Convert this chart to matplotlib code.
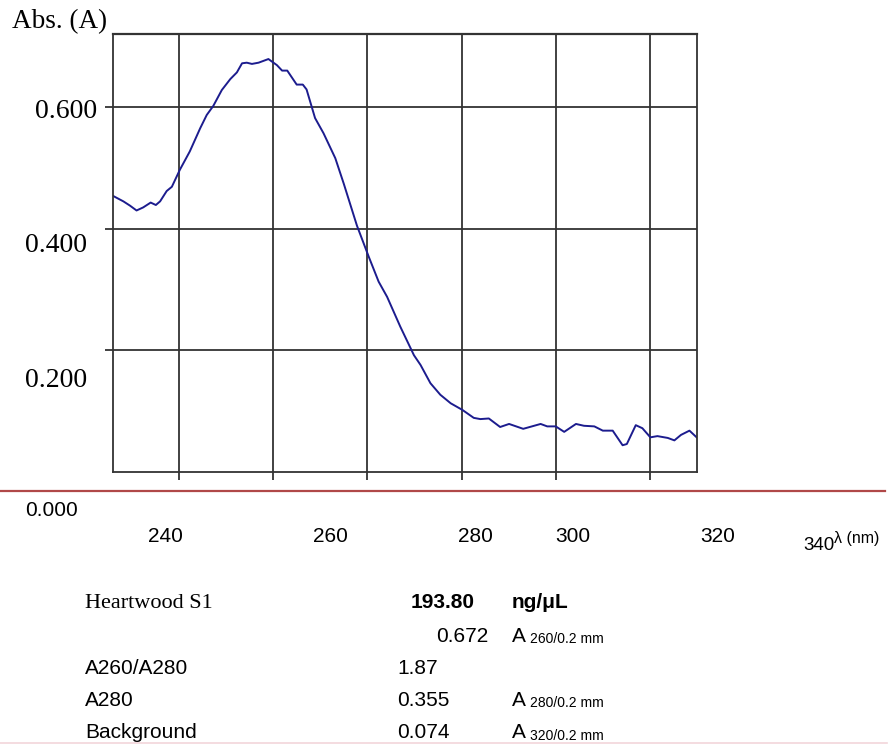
import matplotlib.pyplot as plt
import numpy as np

# spectrum (nm, absorbance)
wavelength = [226.0, 228.2, 229.6, 231.0, 232.4, 234.0, 235.1, 236.0, 237.4, 238.5,
              240.2, 242.3, 244.5, 245.9, 247.3, 249.1, 250.9, 252.3, 253.4, 254.4,
              255.5, 256.9, 259.0, 260.8, 261.9, 263.0, 265.0, 266.3, 267.1, 268.9,
              270.7, 273.2, 275.0, 277.8, 280.3, 282.4, 284.2, 287.0, 289.9, 291.3,
              293.4, 295.5, 297.7, 300.2, 302.6, 304.0, 305.8, 308.2, 310.1, 313.1,
              316.8, 318.2, 320.0, 321.8, 324.3, 326.0, 328.2, 330.0, 332.1, 334.2,
              335.1, 337.0, 338.4, 340.1, 341.6, 343.8, 345.2, 346.6, 348.4, 350.2]
absorbance = [0.454, 0.445, 0.438, 0.430, 0.435, 0.443, 0.439, 0.445, 0.462, 0.469,
              0.497, 0.527, 0.565, 0.587, 0.602, 0.628, 0.646, 0.657, 0.672, 0.673,
              0.671, 0.673, 0.679, 0.669, 0.660, 0.660, 0.637, 0.637, 0.629, 0.582,
              0.557, 0.516, 0.474, 0.405, 0.354, 0.313, 0.288, 0.239, 0.192, 0.176,
              0.146, 0.127, 0.113, 0.102, 0.089, 0.087, 0.088, 0.074, 0.079, 0.071,
              0.079, 0.075, 0.075, 0.066, 0.079, 0.076, 0.075, 0.068, 0.068, 0.044,
              0.046, 0.077, 0.072, 0.057, 0.059, 0.056, 0.052, 0.061, 0.068, 0.055]

x_ticks = [240, 260, 280, 300, 320, 340]
y_ticks = [0.2, 0.4, 0.6]
x_tick_labels = ["240", "260", "280", "300", "320"]
y_tick_labels = ["0.600", "0.400", "0.200"]

W, H = 891, 745
fig = plt.figure(figsize=(W / 100, H / 100), dpi=100)

ax = fig.add_axes([113 / W, 1 - 472 / H, (697 - 113) / W, (472 - 33.5) / H])
ax.plot(wavelength, absorbance, color="#1c1c8e", linewidth=1.4)
ax.set_xlim(226, 350)
ax.set_ylim(0, 0.721)
ax.set_xticks(x_ticks)
ax.set_yticks(y_ticks)
ax.set_xticklabels([])
ax.set_yticklabels([])
ax.grid(True, color="#333333", linewidth=1.3)
ax.tick_params(direction="out", length=6, width=1.3, color="#333333")
for s in ax.spines.values():
    s.set_color("#333333")
    s.set_linewidth(1.3)
ax.spines["top"].set_linewidth(1.6)

serif = "Liberation Serif"
sans = "Liberation Sans"

# axis labels (placed where the original document put them)
fig.text(12 / W, 1 - 22 / H, "Abs. (A)", family=serif, fontsize=19.5, va="center")
for lab, (x, y) in zip(y_tick_labels, [(35, 111), (25, 245), (25, 380)]):
    fig.text(x / W, 1 - y / H, lab, family=serif, fontsize=20, va="center")
fig.text(25 / W, 1 - 510 / H, "0.000", family=sans, fontsize=15, va="center")
for lab, x in zip(x_tick_labels, [165, 330, 475, 573, 718]):
    fig.text(x / W, 1 - 537 / H, lab, family=sans, fontsize=15, va="center", ha="center")
fig.text(803 / W, 1 - 546 / H, "340", family=sans, fontsize=13.5, va="center")
fig.text(834 / W, 1 - 538 / H, "\u03bb (nm)", family=sans, fontsize=11.5, va="center")

# separator lines
fig.add_artist(plt.Line2D([0, 885 / W], [1 - 490.5 / H] * 2, color="#b04848", linewidth=1.6))
fig.add_artist(plt.Line2D([0, 887 / W], [1 - 743 / H] * 2, color="#f2d6da", linewidth=1.2))

# results table
rows_y = [603, 636, 668, 700, 733]
fig.text(85 / W, 1 - rows_y[0] / H, "Heartwood S1", family=serif, fontsize=16, va="center")
fig.text(475 / W, 1 - rows_y[0] / H, "193.80", family=sans, fontsize=15, weight="bold", va="center", ha="right")
fig.text(512 / W, 1 - rows_y[0] / H, "ng/\u03bcL", family=sans, fontsize=15, weight="bold", va="center")
fig.text(488 / W, 1 - rows_y[1] / H, "0.672", family=sans, fontsize=15, va="center", ha="right")
fig.text(85 / W, 1 - rows_y[2] / H, "A260/A280", family=sans, fontsize=15, va="center")
fig.text(397 / W, 1 - rows_y[2] / H, "1.87", family=sans, fontsize=15, va="center")
fig.text(85 / W, 1 - rows_y[3] / H, "A280", family=sans, fontsize=15, va="center")
fig.text(397 / W, 1 - rows_y[3] / H, "0.355", family=sans, fontsize=15, va="center")
fig.text(85 / W, 1 - rows_y[4] / H, "Background", family=sans, fontsize=15, va="center")
fig.text(397 / W, 1 - rows_y[4] / H, "0.074", family=sans, fontsize=15, va="center")
for y, sub in zip([rows_y[1], rows_y[3], rows_y[4]], ["260/0.2 mm", "280/0.2 mm", "320/0.2 mm"]):
    fig.text(512 / W, 1 - y / H, "A", family=sans, fontsize=15, va="center")
    fig.text(530 / W, 1 - (y + 3) / H, sub, family=sans, fontsize=10, va="center")

fig.savefig("out.png", dpi=100)
